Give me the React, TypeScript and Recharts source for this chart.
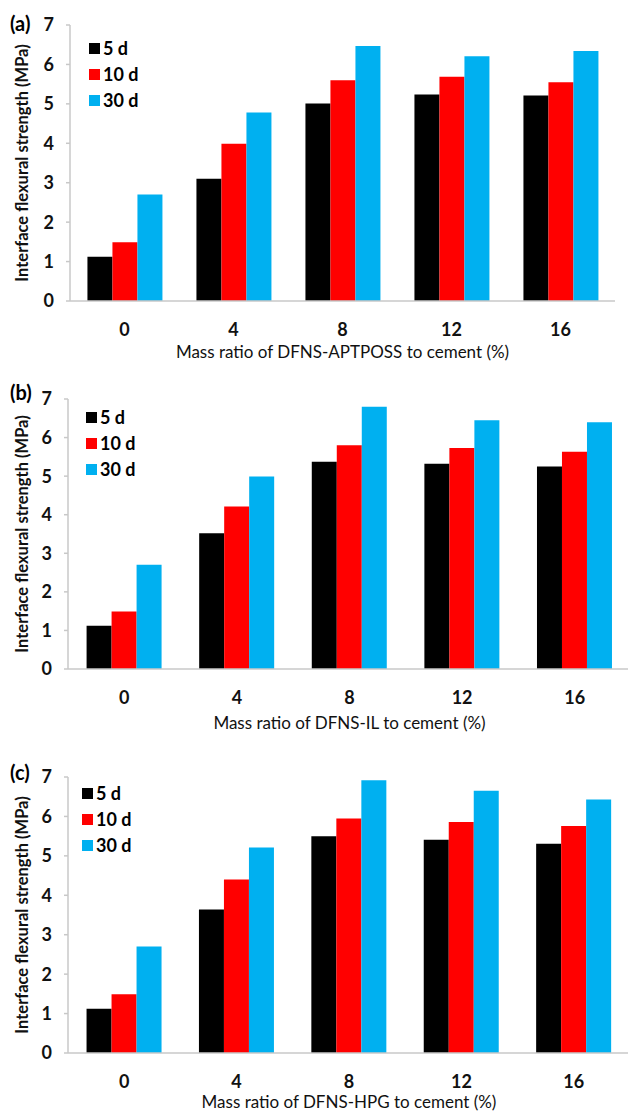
import React from 'react';
import { BarChart, Bar, XAxis, YAxis, Legend, Label } from 'recharts';

// ---------- data ----------
const categories = ['0', '4', '8', '12', '16'];
const seriesNames = ['5 d', '10 d', '30 d'];
const yTicks = [0, 1, 2, 3, 4, 5, 6, 7];

const aDay5 = [1.12, 3.1, 5.01, 5.24, 5.21];
const aDay10 = [1.49, 3.99, 5.6, 5.69, 5.55];
const aDay30 = [2.7, 4.78, 6.47, 6.21, 6.34];

const bDay5 = [1.12, 3.52, 5.37, 5.32, 5.25];
const bDay10 = [1.49, 4.21, 5.8, 5.73, 5.63];
const bDay30 = [2.7, 4.99, 6.8, 6.45, 6.4];

const cDay5 = [1.12, 3.64, 5.5, 5.41, 5.31];
const cDay10 = [1.49, 4.4, 5.95, 5.86, 5.76];
const cDay30 = [2.7, 5.21, 6.92, 6.65, 6.43];

const yTitle = 'Interface flexural strength (MPa)';
const xTitleA = 'Mass ratio of DFNS-APTPOSS to cement (%)';
const xTitleB = 'Mass ratio of DFNS-IL to cement (%)';
const xTitleC = 'Mass ratio of DFNS-HPG to cement (%)';

// ---------- styling ----------
const FONT = 'Lato, "Open Sans", sans-serif';
const COLORS = ['#000000', '#FF0000', '#00B0F0'];
const AXIS_COLOR = '#c8c8c8';

function buildRows(d5: number[], d10: number[], d30: number[]) {
  return categories.map((c, i) => ({ cat: c, d5: d5[i], d10: d10[i], d30: d30[i] }));
}

const renderLegend = (props: any) => {
  const payload = [...(props.payload || [])].sort(
    (a: any, b: any) => seriesNames.indexOf(a.value) - seriesNames.indexOf(b.value)
  );
  return (
    <div style={{ display: 'flex', flexDirection: 'column' }}>
      {payload.map((e: any) => (
        <div
          key={e.value}
          style={{
            display: 'flex',
            alignItems: 'center',
            height: 26,
            fontFamily: FONT,
            fontWeight: 700,
            fontSize: 18,
            color: '#000',
            lineHeight: '26px',
          }}
        >
          <span style={{ display: 'inline-block', width: 11, height: 11, background: e.color, marginRight: 3 }} />
          {e.value}
        </div>
      ))}
    </div>
  );
};

type PanelProps = {
  top: number;
  width: number;
  height: number;
  marginTop: number;
  marginRight: number;
  yAxisWidth: number;
  xAxisHeight: number;
  titleOffset: number;
  gap: string;
  rows: any[];
  xTitle: string;
  letter: string;
  letterY: number;
  legendLeft: number;
  legendTop: number;
};

function Panel(p: PanelProps) {
  const YTitleContent = (props: any) => {
    const vb = props.viewBox || {};
    const cx = 22;
    const cy = (vb.y || 0) + (vb.height || 0) / 2;
    return (
      <g>
        <text
          x={cx}
          y={cy}
          transform={`rotate(-90, ${cx}, ${cy})`}
          textAnchor="middle"
          dominantBaseline="central"
          fontFamily={FONT}
          fontWeight={700}
          fontSize={16.5}
          fill="#111"
        >
          {yTitle}
        </text>
        <text x={10} y={p.letterY} dominantBaseline="central" fontFamily={FONT} fontWeight={700} fontSize={20} fill="#000">
          {p.letter}
        </text>
      </g>
    );
  };

  return (
    <div style={{ position: 'absolute', left: 0, top: p.top, width: p.width, height: p.height }}>
      <BarChart
        width={p.width}
        height={p.height}
        data={p.rows}
        margin={{ top: p.marginTop, right: p.marginRight, left: 0, bottom: 0 }}
        barCategoryGap={p.gap}
        barGap={0}
      >
        <XAxis
          dataKey="cat"
          height={p.xAxisHeight}
          axisLine={{ stroke: AXIS_COLOR, strokeWidth: 1.5 }}
          tickLine={false}
          tickSize={0}
          tickMargin={22}
          tick={{ fontFamily: FONT, fontSize: 18, fontWeight: 700, fill: '#111' }}
        >
          <Label
            value={p.xTitle}
            position="insideBottom"
            offset={p.titleOffset}
            style={{ fontFamily: FONT, fontSize: 17, fill: '#111' }}
          />
        </XAxis>
        <YAxis
          width={p.yAxisWidth}
          domain={[0, 7]}
          ticks={yTicks}
          interval={0}
          allowDataOverflow
          axisLine={{ stroke: AXIS_COLOR, strokeWidth: 1.5 }}
          tickLine={{ stroke: AXIS_COLOR, strokeWidth: 1.5 }}
          tickSize={4}
          tickMargin={12}
          tick={{ fontFamily: FONT, fontSize: 18, fontWeight: 700, fill: '#111' }}
        >
          <Label content={YTitleContent} />
        </YAxis>
        <Legend
          layout="horizontal"
          align="center"
          verticalAlign="middle"
          content={renderLegend}
          wrapperStyle={{ left: p.legendLeft, top: p.legendTop, width: 90 }}
        />
        <Bar dataKey="d5" name={seriesNames[0]} fill={COLORS[0]} isAnimationActive={false} />
        <Bar dataKey="d10" name={seriesNames[1]} fill={COLORS[1]} isAnimationActive={false} />
        <Bar dataKey="d30" name={seriesNames[2]} fill={COLORS[2]} isAnimationActive={false} />
      </BarChart>
    </div>
  );
}

export default function App() {
  const rowsA = buildRows(aDay5, aDay10, aDay30);
  const rowsB = buildRows(bDay5, bDay10, bDay30);
  const rowsC = buildRows(cDay5, cDay10, cDay30);
  return (
    <div
      style={{
        position: 'absolute',
        left: 0,
        top: 0,
        width: 628,
        height: 1111,
        overflow: 'hidden',
        background: '#fff',
      }}
    >
      <Panel
        top={0}
        width={628}
        height={370}
        marginTop={25}
        marginRight={13}
        yAxisWidth={70}
        xAxisHeight={69}
        titleOffset={12}
        gap="16%"
        rows={rowsA}
        xTitle={xTitleA}
        letter="(a)"
        letterY={23}
        legendLeft={89}
        legendTop={35}
      />
      <Panel
        top={374}
        width={631}
        height={361}
        marginTop={25}
        marginRight={0}
        yAxisWidth={68}
        xAxisHeight={66}
        titleOffset={6}
        gap="16.5%"
        rows={rowsB}
        xTitle={xTitleB}
        letter="(b)"
        letterY={18}
        legendLeft={86}
        legendTop={30}
      />
      <Panel
        top={752}
        width={630}
        height={359}
        marginTop={25}
        marginRight={0}
        yAxisWidth={68}
        xAxisHeight={58}
        titleOffset={3}
        gap="16.5%"
        rows={rowsC}
        xTitle={xTitleC}
        letter="(c)"
        letterY={20}
        legendLeft={82}
        legendTop={28}
      />
    </div>
  );
}
